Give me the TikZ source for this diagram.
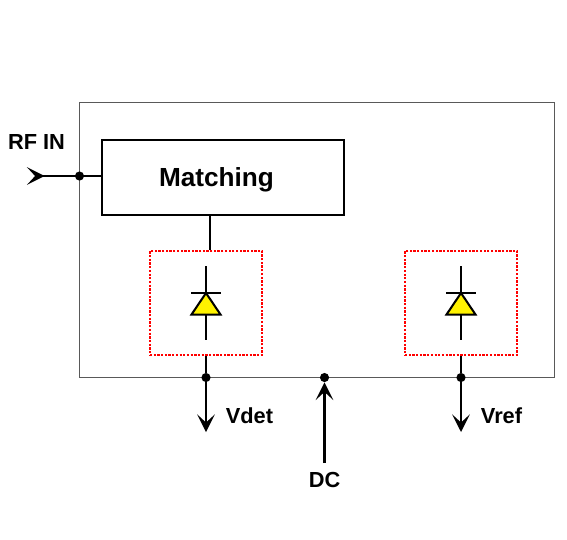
\documentclass[tikz,border=0pt]{standalone}
\usepackage{fontspec}
\setmainfont{Liberation Sans}
\usetikzlibrary{arrows.meta,positioning,calc}

\begin{document}
\begin{tikzpicture}[
  x=0.02cm, y=-0.02cm,
  font=\fontsize{12.4}{14}\selectfont\bfseries,
  >={Stealth[length=10pt, width=10pt, inset=4.6pt]},
  chip/.style={draw=black!65, line width=0.4pt, minimum width=475*0.02cm, minimum height=275*0.02cm, inner sep=0pt},
  block/.style={draw=black, line width=1.15pt, minimum width=242*0.02cm, minimum height=75*0.02cm, inner sep=0pt},
  redbox/.style={draw=red, line width=1.4pt, dash pattern=on 1.3pt off 0.8pt, minimum width=112*0.02cm, minimum height=104*0.02cm, inner sep=0pt},
  dot/.style={circle, fill=black, inner sep=0pt, minimum size=5.2pt},
  wire/.style={line width=1.15pt},
  arr/.style={->, line width=1.15pt}
]
\useasboundingbox (0,0) rectangle (567,539);
\node[chip] (chip) at (316.5,239.5) {};
\node[block] (match) at (223,177.5) {};
\node[font=\fontsize{14.9}{17}\selectfont\bfseries] (matchlbl) at (216.5,179.5) {Matching};
\node[redbox] (detbox) at (206,303) {};
\node[redbox] (refbox) at (461,303) {};
% diodes
\foreach \dx in {206,461} {
  \draw[wire] (\dx,266) -- (\dx,292);
  \draw[wire] (\dx,314) -- (\dx,340);
  \draw[wire] (\dx-15,292.5) -- (\dx+15,292.5);
  \draw[wire, fill=yellow, line join=miter] (\dx,293) -- (\dx+14.5,314.5) -- (\dx-14.5,314.5) -- cycle;
}
\node[dot] (rfdot) at (79.5,176) {};
\node[dot] (detdot) at (206,377.5) {};
\node[dot] (dcdot) at (324.5,377.5) {};
\node[dot] (refdot) at (461,377.5) {};
\coordinate (rfend) at (27,176);
\coordinate (tap) at (210,215);
\coordinate (detend) at (206,432);
\coordinate (dcend) at (324.5,463);
\coordinate (refend) at (461,432);
\draw[wire] (rfdot) -- (match.west |- rfdot);
\draw[wire] (tap) -- (tap |- detbox.north);
\draw[wire] (detbox.south) -- (detdot);
\draw[wire] (refbox.south) -- (refdot);
\draw[arr] (detdot) -- (detend);
\draw[arr] (refdot) -- (refend);
\draw[arr] (dcend) -- (dcdot);
\draw[{Stealth[reversed, length=10pt, width=10pt, inset=4.6pt]}-, line width=1.15pt] (rfend) -- (rfdot);
\node (rflbl) at (36.5,142) {RF IN};
\node (detlbl) at (249.5,416) {Vdet};
\node (reflbl) at (501.5,416) {Vref};
\node (dclbl) at (324.5,480) {DC};
\end{tikzpicture}
\end{document}
